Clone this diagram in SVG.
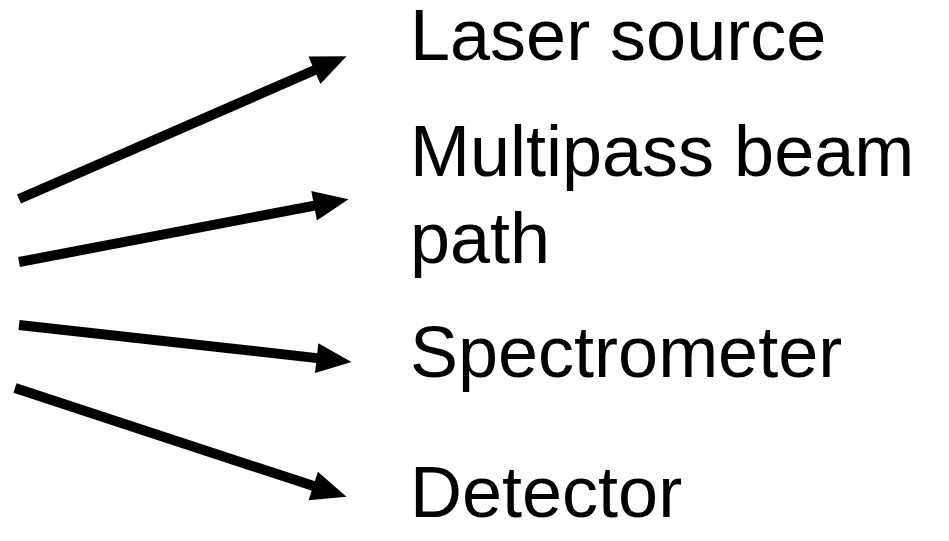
<svg xmlns="http://www.w3.org/2000/svg" width="949" height="541" viewBox="0 0 949 541">
<style>
.lbl{font-family:"Liberation Sans",Arial,sans-serif;font-size:72px;fill:#000}
.arr{stroke:#000;stroke-width:10;fill:none;marker-end:url(#ah)}
</style>
<defs>
<marker id="ah" markerUnits="strokeWidth" markerWidth="3.5" markerHeight="3" refX="0.05" refY="1.5" orient="auto" overflow="visible">
<path d="M0,0 L3.5,1.5 L0,3 z" fill="#000"/>
</marker>
</defs>
<rect width="949" height="541" fill="#fff"/>
<g id="connectors">
<line class="arr" x1="19" y1="199" x2="314.9" y2="70"/>
<line class="arr" x1="19" y1="262" x2="314.6" y2="205.6"/>
<line class="arr" x1="19" y1="325" x2="317.2" y2="358.1"/>
<line class="arr" x1="15" y1="388" x2="313.7" y2="486.1"/>
</g>
<g id="laser"><text class="lbl" x="410" y="60">Laser source</text></g>
<g id="multipass"><text class="lbl" x="410" y="176">Multipass beam</text><text class="lbl" x="410" y="263">path</text></g>
<g id="spectrometer"><text class="lbl" x="410" y="377">Spectrometer</text></g>
<g id="detector"><text class="lbl" x="410" y="517">Detector</text></g>
</svg>
